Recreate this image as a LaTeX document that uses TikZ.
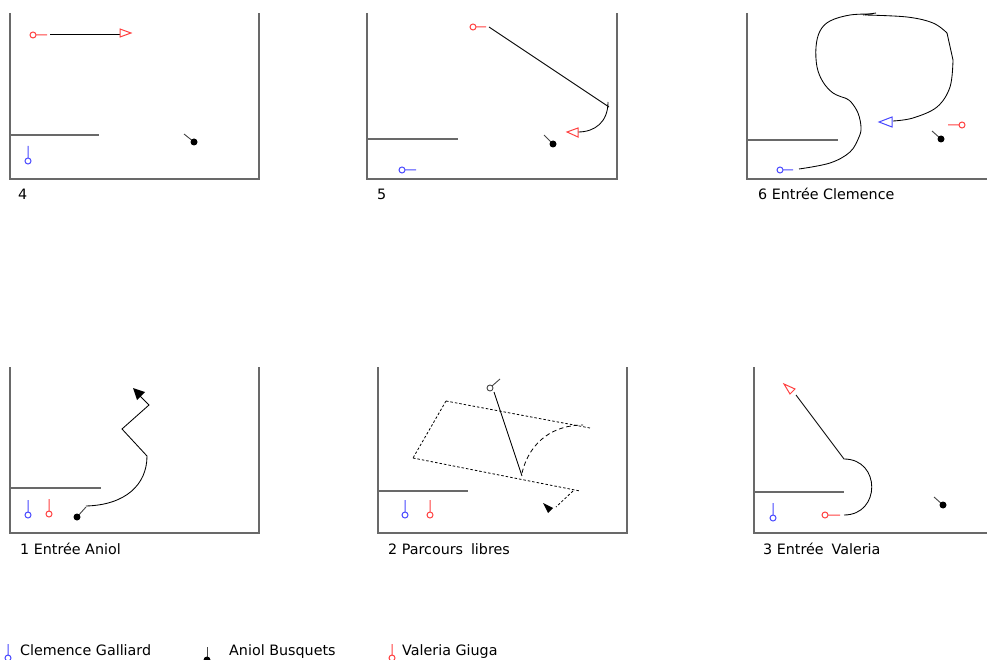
\documentclass[tikz,border=0pt]{standalone}
\usepackage{fontspec}
\setmainfont{DejaVu Sans}
\definecolor{myred}{RGB}{255,64,64}
\definecolor{myblue}{RGB}{72,72,255}
\definecolor{framegray}{RGB}{105,105,105}
\definecolor{darkg}{RGB}{70,70,70}
\begin{document}
\begin{tikzpicture}[x=1pt,y=-1pt,
  frame/.style={draw=framegray, line width=1.4pt},
  wall/.style={draw=framegray, line width=1.3pt},
  trail/.style={draw=black, line width=0.85pt},
  redfig/.style={draw=myred, line width=1pt},
  bluefig/.style={draw=myblue, line width=1pt},
  dotfig/.style={draw=darkg, line width=0.9pt},
  fine/.style={draw=black, line width=0.8pt, dash pattern=on 2.5pt off 2pt},
  longdash/.style={draw=black, line width=0.8pt, dash pattern=on 4.5pt off 3pt},
  lbl/.style={anchor=base west, inner sep=0pt, font=\fontsize{14.3}{17}\selectfont}]
\useasboundingbox (0,0) rectangle (987,660);

% ---------- Panel 4 ----------
\draw[frame] (10,13) -- (10,179) -- (259,179) -- (259,13);
\draw[wall] (10,135) -- (99,135);
\node[lbl] (l4) at (18,200) {4};
\draw[redfig] (33,35) circle (3) (36,35) -- (47,35);
\draw[trail] (50,34) -- (120,34);
\draw[redfig] (120,29) -- (131,33) -- (120,37) -- cycle;
\draw[bluefig] (28,161) circle (3) (28,158) -- (28,146);
\draw[dotfig] (184,134) -- (194,142);
\fill[black] (194,142) circle (3.5);

% ---------- Panel 5 ----------
\draw[frame] (367,13) -- (367,179) -- (617,179) -- (617,13);
\draw[wall] (367,139) -- (458,139);
\node[lbl] (l5) at (377,200) {5};
\draw[redfig] (473,27) circle (3) (476,27) -- (486,27);
\draw[trail] (489,27) -- (609,107);
\draw[trail] (608,102) .. controls (608,122) and (595,132) .. (578,132);
\draw[redfig] (567,132) -- (578,128) -- (578,137) -- cycle;
\draw[dotfig] (544,135) -- (553,144);
\fill[black] (553,144) circle (3.5);
\draw[bluefig] (402,170) circle (3) (405,170) -- (416,170);

% ---------- Panel 6 ----------
\draw[frame] (747,13) -- (747,179) -- (990,179);
\draw[wall] (747,140) -- (838,140);
\node[lbl] (l6) at (758,200) {6 Entrée Clemence};
\draw[bluefig] (780,170) circle (3) (783,170) -- (793,170);
\draw[trail] plot[smooth, tension=0.6] coordinates {(799,169) (830,163) (850,152) (859,137) (861,127) (858,113) (851,102) (845,98)};
\draw[trail] plot[smooth, tension=0.6] coordinates {(845,98) (833,93) (823,82) (817,67) (816,47) (820,31) (830,21) (850,15) (873,14)};
\draw[trail] plot[smooth, tension=0.6] coordinates {(865,15) (907,17) (933,23) (947,33)};
\draw[trail] (863,15) -- (876,13);
\draw[trail] (947,33) -- (953,60);
\draw[trail] plot[smooth, tension=0.6] coordinates {(953,60) (950,87) (937,107) (913,118) (893,121)};
\draw[bluefig] (879,122) -- (892,117) -- (892,127) -- cycle;
\draw[redfig] (962,125) circle (3) (959,125) -- (948,125);
\draw[dotfig] (932,131) -- (941,139);
\fill[black] (941,139) circle (3.5);

% ---------- Panel 1 ----------
\draw[frame] (10,367) -- (10,533) -- (259,533) -- (259,367);
\draw[wall] (10,488) -- (101,488);
\node[lbl] (l1) at (20,554) {1 Entrée Aniol};
\draw[bluefig] (28,515) circle (3) (28,512) -- (28,500);
\draw[redfig] (49,514) circle (3) (49,511) -- (49,499);
\draw[dotfig] (77,517) -- (86,507);
\fill[black] (77,517) circle (3.5);
\draw[trail] (86,506) .. controls (125,505) and (147,485) .. (147,456) -- (122,429) -- (149,405) -- (140,396);
\fill[black] (133,388) -- (145,392) -- (137,400) -- cycle;

% ---------- Panel 2 ----------
\draw[frame] (378,367) -- (378,533) -- (627,533) -- (627,367);
\draw[wall] (378,491) -- (468,491);
\node[lbl] (l2) at (388,554) {2 Parcours\hspace{0.55em}libres};
\draw[bluefig] (405,515) circle (3) (405,512) -- (405,500);
\draw[redfig] (430,515) circle (3) (430,512) -- (430,500);
\draw[fine] (446,401) -- (590,428);
\draw[fine] (446,401) -- (413,458);
\draw[fine] (413,458) -- (580,491);
\draw[fine] (573,491) -- (556,507);
\fill[black] (543,503) -- (553,508) -- (548,513) -- cycle;
\draw[dotfig] (490,388) circle (3) (492,386) -- (500,379);
\draw[trail] (494,392) -- (522,476);
\draw[longdash] (522,473) .. controls (530,440) and (555,425) .. (583,425);

% ---------- Panel 3 ----------
\draw[frame] (754,367) -- (754,533) -- (990,533);
\draw[wall] (754,492) -- (844,492);
\node[lbl] (l3) at (763,554) {3 Entrée\hspace{0.55em}Valeria};
\draw[bluefig] (773,518) circle (3) (773,515) -- (773,503);
\draw[redfig] (825,515) circle (3) (828,515) -- (840,515);
\draw[trail] (844,515) .. controls (881,515) and (881,459) .. (844,459) -- (796,395);
\draw[redfig] (784,384) -- (795,389) -- (790,394) -- cycle;
\draw[dotfig] (934,497) -- (943,505);
\fill[black] (943,505) circle (3.5);

% ---------- Legend ----------
\draw[bluefig] (8,658) circle (3) (8,655) -- (8,644);
\node[lbl] (lg1) at (20,655) {Clemence Galliard};
\draw[dotfig] (207,647) -- (207,657);
\fill[black] (207,660) circle (3.5);
\node[lbl] (lg2) at (229,655) {Aniol Busquets};
\draw[redfig] (392,658) circle (3) (392,655) -- (392,644);
\node[lbl] (lg3) at (402,655) {Valeria Giuga};
\end{tikzpicture}
\end{document}
